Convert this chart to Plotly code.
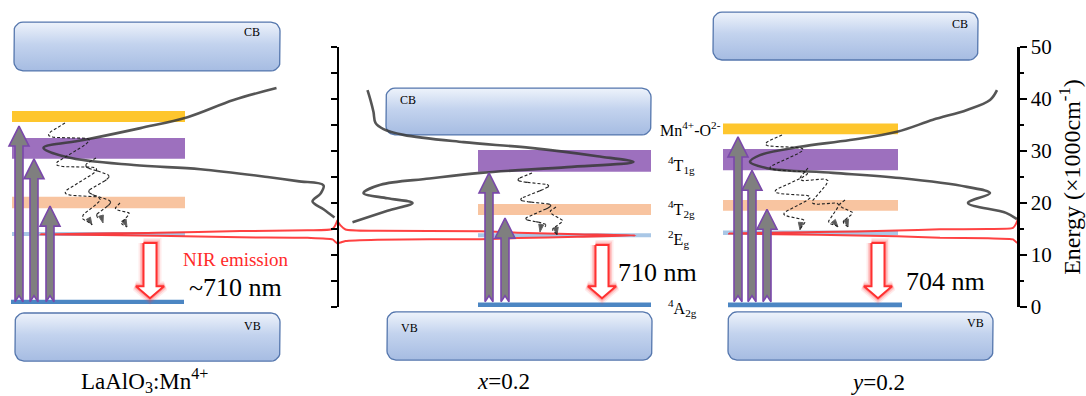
import numpy as np
import plotly.graph_objects as go

W, H = 1086, 396
Y0_PX, PX_PER_E = 307.0, 5.2          # energy axis: 0 at 307 px, 5.2 px per 1000 cm-1
E_TOP = Y0_PX / PX_PER_E
E_BOT = (Y0_PX - H) / PX_PER_E
SERIF = "Liberation Serif"

# ------------------------------------------------------------------ data
panel_titles = ["LaAlO<sub>3</sub>:Mn<sup>4+</sup>", "<i>x</i>=0.2", "<i>y</i>=0.2"]
emission_labels = ["~710 nm", "710 nm", "704 nm"]
level_labels = ["Mn<sup>4+</sup>-O<sup>2-</sup>", "<sup>4</sup>T<sub>1g</sub>",
                "<sup>4</sup>T<sub>2g</sub>", "<sup>2</sup>E<sub>g</sub>", "<sup>4</sup>A<sub>2g</sub>"]
level_colors = ["#fec62d", "#9d70be", "#f8c4a0", "#a9c7e6", "#4c86c3"]

# level bands: lower / upper edge (x1000 cm-1); order Mn-O, 4T1g, 4T2g, 2Eg, 4A2g
p1_lvl_lo = [35.6, 28.5, 19.0, 13.65, 0.6]
p1_lvl_hi = [37.7, 32.5, 21.2, 14.4, 1.4]
p2_lvl_lo = [None, 26.0, 17.7, 13.4, 0.0]
p2_lvl_hi = [None, 30.2, 19.8, 14.2, 0.85]
p3_lvl_lo = [33.2, 26.3, 18.5, 13.85, -0.05]
p3_lvl_hi = [35.3, 30.4, 20.6, 14.7, 0.85]

# conduction / valence band boxes (x1000 cm-1)
cb_lo = [45.4, 33.1, 47.5]
cb_hi = [54.8, 42.1, 56.7]
vb_lo = [-10.4, -10.2, -10.2]
vb_hi = [-1.15, -0.95, -0.95]

# excitation arrows (tip energies) and emission arrows
p1_exc_tip = [34.8, 28.5, 19.4]
p2_exc_tip = [25.8, 17.1]
p3_exc_tip = [32.7, 26.3, 18.8]
exc_base = [1.0, 1.0, 1.0]
em_top = [12.3, 11.9, 12.3]
em_tip = [1.7, 1.7, 1.7]

# excitation spectra (grey): energy vs relative intensity
p1_exc_E = [42.1, 39.8, 36.5, 34.4, 32.1, 30.6, 28.8, 27.3, 26.5, 25.0, 24.2, 23.4, 21.8, 20.3, 18.8, 17.2]
p1_exc_I = [61, 104, 150, 197, 254, 294, 270, 204, 137, 70, 40, 14, 17, 25, 14, 3]
p2_exc_E = [41.7, 39.8, 37.5, 35.4, 34.2, 33.1, 31.7, 30.6, 29.0, 27.9, 26.9, 25.8, 24.7, 23.5, 21.9, 20.9, 20.0, 18.5, 16.3]
p2_exc_I = [30, 33, 36, 38, 46, 66, 126, 193, 260, 296, 230, 143, 92, 43, 26, 50, 75, 50, 15]
p3_exc_E = [41.7, 39.8, 37.9, 36.0, 33.7, 32.1, 30.8, 29.2, 27.9, 26.7, 25.8, 24.8, 23.1, 21.9, 20.0, 18.1, 16.9]
p3_exc_I = [21, 28, 51, 85, 121, 168, 218, 258, 268, 251, 185, 118, 51, 28, 50, 12, 1]

# emission spectra (red): energy vs relative intensity
p1_em_E = [16.7, 15.8, 15.0, 14.75, 14.6, 14.3, 14.0, 13.7, 13.4, 13.3, 13.0, 12.5, 12.2]
p1_em_I = [0, 2, 5, 30, 97, 180, 297, 180, 97, 30, 5, 2, 0]
p2_em_E = [16.5, 15.7, 14.9, 14.65, 14.55, 14.3, 14.0, 13.75, 13.5, 13.25, 13.05, 12.95, 12.7, 12.4, 12.2]
p2_em_I = [0, 3, 8, 40, 143, 180, 240, 298, 240, 180, 143, 40, 8, 3, 0]
p3_em_E = [16.9, 16.0, 15.2, 15.0, 14.95, 14.7, 14.4, 14.15, 13.9, 13.6, 13.3, 13.2, 13.0, 12.5, 12.3]
p3_em_I = [0, 2, 5, 30, 78, 121, 200, 289, 200, 121, 78, 30, 5, 2, 0]

# ------------------------------------------------------------------ layout geometry (px)
left_axis_x, right_axis_x = 337.5, 1018
lvl_x = [(12, 185), (478, 651), (723, 898)]
a2g_x = [(11, 184), (478, 651), (728, 902)]
cb_x = [(14, 280), (386, 651), (713, 978)]
vb_x = [(15, 280), (387, 652), (728, 993)]
exc_x = [[19, 34, 50], [489, 505], [738, 752, 767]]
em_x = [150, 602, 878]
spec_base = [left_axis_x, left_axis_x, right_axis_x]
spec_dir = [-1, 1, -1]
wiggles = [
    [((65, 123), (92, 225), 19, 7), ((96, 158), (103, 223), 11, 5), ((120, 203), (127, 227), 6, 3)],
    [((532, 173), (540, 232), 15, 6), ((556, 207), (557, 235), 6, 3)],
    [((782, 135), (800, 230), 18, 8), ((808, 168), (838, 227), 12, 5), ((845, 200), (848, 227), 6, 3)],
]


def ep(py):
    """pixel row -> energy coordinate"""
    return (Y0_PX - py) / PX_PER_E


def pe(e):
    return Y0_PX - e * PX_PER_E


fig = go.Figure()


def poly(xs, ys_px, **kw):
    fig.add_trace(go.Scatter(x=list(xs), y=[ep(v) for v in ys_px], mode="lines", fill="toself",
                             hoverinfo="skip", showlegend=False, **kw))


def rounded(x0, x1, e_lo, e_hi, r=9):
    top, bot = pe(e_hi), pe(e_lo)
    xs, ys = [], []
    for cx, cy, a0 in [(x1 - r, top + r, -90), (x1 - r, bot - r, 0), (x0 + r, bot - r, 90), (x0 + r, top + r, 180)]:
        for a in np.radians(np.linspace(a0, a0 + 90, 7)):
            xs.append(cx + r * np.cos(a))
            ys.append(cy + r * np.sin(a))
    xs.append(xs[0]); ys.append(ys[0])
    return xs, ys


# ---- CB / VB boxes
for i in range(3):
    for (x0, x1), lo, hi in [(cb_x[i], cb_lo[i], cb_hi[i]), (vb_x[i], vb_lo[i], vb_hi[i])]:
        xs, ys = rounded(x0, x1, lo, hi)
        poly(xs, ys, line=dict(color="#5476ad", width=1.3),
             fillgradient=dict(type="vertical", colorscale=[[0, "#a6bce2"], [0.55, "#c3d3ee"], [1, "#eef3fb"]]))

# ---- energy levels
levels = [(p1_lvl_lo, p1_lvl_hi), (p2_lvl_lo, p2_lvl_hi), (p3_lvl_lo, p3_lvl_hi)]
for i, (los, his) in enumerate(levels):
    for k, (lo, hi) in enumerate(zip(los, his)):
        if lo is None:
            continue
        x0, x1 = a2g_x[i] if k == 4 else lvl_x[i]
        fig.add_trace(go.Scatter(x=[x0, x1, x1, x0, x0], y=[lo, lo, hi, hi, lo], mode="lines",
                                 fill="toself", fillcolor=level_colors[k], line=dict(width=0),
                                 hoverinfo="skip", showlegend=False))

# ---- spectra
exc = [(p1_exc_E, p1_exc_I), (p2_exc_E, p2_exc_I), (p3_exc_E, p3_exc_I)]
ems = [(p1_em_E, p1_em_I), (p2_em_E, p2_em_I), (p3_em_E, p3_em_I)]
for i in range(3):
    Es, Is = exc[i]
    fig.add_trace(go.Scatter(x=[spec_base[i] + spec_dir[i] * v for v in Is], y=Es, mode="lines",
                             line=dict(color="rgba(55,55,55,0.85)", width=2.6, shape="spline", smoothing=1.0),
                             hoverinfo="skip", showlegend=False))
    Es, Is = ems[i]
    fig.add_trace(go.Scatter(x=[spec_base[i] + spec_dir[i] * v for v in Is], y=Es, mode="lines",
                             line=dict(color="rgba(255,45,45,0.9)", width=2.0, shape="spline", smoothing=0.6),
                             hoverinfo="skip", showlegend=False))

# ---- excitation arrows
tips = [p1_exc_tip, p2_exc_tip, p3_exc_tip]
for i in range(3):
    for xc, tip in zip(exc_x[i], tips[i]):
        yb, yt = pe(exc_base[i]), pe(tip)
        s, hw, hh, n = 4.0, 10.0, 20.0, 6.0
        xs = [xc - s, xc, xc + s, xc + s, xc + hw, xc, xc - hw, xc - s, xc - s]
        ys = [yb, yb - n, yb, yt + hh, yt + hh, yt, yt + hh, yt + hh, yb]
        poly(xs, ys, fillcolor="#7f7f7f", line=dict(color="#7a48aa", width=1.6))

# ---- non-radiative relaxation (dashed wiggles)
for i in range(3):
    for (x0, y0), (x1, y1), amp, nh in wiggles[i]:
        t = np.linspace(0, 1, 90)
        dx, dy = x1 - x0, y1 - y0
        L = np.hypot(dx, dy)
        nx, ny = -dy / L, dx / L
        off = amp * np.sin(np.pi * nh * t) * (1 - t ** 6)
        xs = x0 + dx * t + nx * off
        ys = y0 + dy * t + ny * off
        sizes = [0] * (len(t) - 1) + [8]
        fig.add_trace(go.Scatter(x=xs, y=[ep(v) for v in ys], mode="lines+markers",
                                 line=dict(color="#222222", width=1.1, dash="3px,2px"),
                                 marker=dict(size=sizes, symbol="arrow", angleref="previous", color="#111111"),
                                 hoverinfo="skip", showlegend=False))

# ---- emission arrows (glowing red outline)
for i in range(3):
    xc, yt, yb = em_x[i], pe(em_top[i]), pe(em_tip[i])
    s, hw, hh = 6.5, 14.0, 12.0
    xs = [xc - s, xc + s, xc + s, xc + hw, xc, xc - hw, xc - s, xc - s]
    ys = [yt, yt, yb - hh, yb - hh, yb, yb - hh, yb - hh, yt]
    for w, a in [(10, 0.10), (7, 0.18), (4, 0.3)]:
        fig.add_trace(go.Scatter(x=xs, y=[ep(v) for v in ys], mode="lines",
                                 line=dict(color=f"rgba(255,60,60,{a})", width=w),
                                 hoverinfo="skip", showlegend=False))
    poly(xs, ys, fillcolor="white", line=dict(color="#ff3030", width=2))

# ---- dummy traces so the two drawn energy axes exist
for ya in ["y2", "y3"]:
    fig.add_trace(go.Scatter(x=[500], y=[25], yaxis=ya, mode="markers", marker=dict(opacity=0),
                             hoverinfo="skip", showlegend=False))

# ---- text
ann = []


def txt(x, py, text, size, color="black", xanchor="center"):
    ann.append(dict(x=x, y=ep(py), xref="x", yref="y", text=text, showarrow=False, xanchor=xanchor,
                    yanchor="middle", font=dict(family=SERIF, size=size, color=color)))


cb_lbl = [(252, 32), (408, 100), (960, 24)]
vb_lbl = [(252, 326), (409, 328), (975, 323)]
for i in range(3):
    txt(cb_lbl[i][0], cb_lbl[i][1], "CB", 12)
    txt(vb_lbl[i][0], vb_lbl[i][1], "VB", 12)
title_pos = [(144, 380), (503, 381), (878, 382)]
for i in range(3):
    txt(title_pos[i][0], title_pos[i][1], panel_titles[i], 23)
em_lbl_pos = [(235, 287), (657, 272), (945, 281)]
for i in range(3):
    txt(em_lbl_pos[i][0], em_lbl_pos[i][1], emission_labels[i], 26)
txt(236, 259, "NIR emission", 19, color="#ff2a2a")
txt(723, 129, level_labels[0], 16, xanchor="right")
lvl_lbl_y = [None, 165, 209, 239, 308]
for k in range(1, 5):
    txt(666, lvl_lbl_y[k], level_labels[k], 16, xanchor="left")

axis_dom = [(H - 307) / H, (H - 47) / H]
fig.update_layout(
    width=W, height=H, margin=dict(l=0, r=0, t=0, b=0),
    paper_bgcolor="white", plot_bgcolor="rgba(0,0,0,0)", hovermode=False, showlegend=False,
    xaxis=dict(range=[0, W], visible=False, fixedrange=True),
    yaxis=dict(range=[E_BOT, E_TOP], visible=False, fixedrange=True),
    yaxis2=dict(domain=axis_dom, range=[0, 50], anchor="free", position=right_axis_x / W, side="right",
                showline=True, linecolor="black", linewidth=2.5, ticks="outside", ticklen=7, tickwidth=2,
                tickcolor="black", dtick=10, tick0=0, showgrid=False, zeroline=False, automargin=False,
                minor=dict(dtick=5, ticks="outside", ticklen=4, tickwidth=2, tickcolor="black", showgrid=False),
                tickfont=dict(family=SERIF, size=21, color="black"),
                title=dict(text="Energy (×1000cm<sup>-1</sup>)", standoff=12,
                           font=dict(family=SERIF, size=24, color="black"))),
    yaxis3=dict(domain=axis_dom, range=[0, 50], anchor="free", position=left_axis_x / W, side="left",
                showline=True, linecolor="black", linewidth=2.5, ticks="outside", ticklen=6, tickwidth=2,
                tickcolor="black", dtick=5, tick0=0, showgrid=False, zeroline=False, automargin=False,
                showticklabels=False),
    annotations=ann,
)
fig.write_html("out.html", config={"displayModeBar": False, "staticPlot": True},
               post_script="document.body.style.margin='0';document.body.style.overflow='hidden';")
